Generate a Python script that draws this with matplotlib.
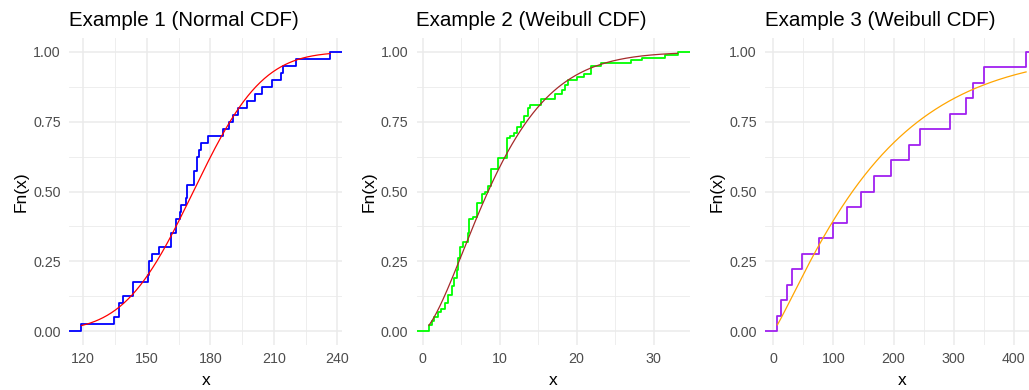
import math
import numpy as np
import matplotlib
matplotlib.use("Agg")
import matplotlib.pyplot as plt

plt.rcParams['font.family'] = ['Liberation Sans', 'DejaVu Sans']

# Example 1: sample (n = 40) and fitted normal
sample1 = [119.2, 134.5, 137.1, 137.1, 138.7, 143.6, 143.6, 150.5, 151.2, 151.2,
           152.3, 155.7, 161.5, 161.5, 163.7, 163.7, 165.5, 166.2, 168.3, 169.0,
           169.0, 172.3, 172.3, 173.9, 173.9, 174.8, 175.5, 178.9, 186.1, 188.8,
           190.9, 193.2, 197.1, 201.1, 204.5, 209.0, 213.2, 214.1, 220.3, 236.5]
norm_mean = 172.0
norm_sd = 25.6

# Example 2: ECDF steps
step2_x = [0.82, 1.2, 1.5, 1.95, 2.4, 2.9, 3.3, 3.77, 4.1, 4.42,
           4.6, 4.85, 5.3, 5.93, 6.06, 6.6, 7.0, 7.1, 7.67, 8.1,
           8.5, 8.84, 9.83, 10.95, 11.4, 11.9, 12.3, 12.8, 13.2, 13.7,
           14.0, 15.4, 17.2, 18.1, 18.5, 18.9, 20.0, 21.0, 21.8, 23.1,
           27.0, 28.5, 31.5, 33.1]
step2_y = [0.02, 0.035, 0.05, 0.07, 0.08, 0.10, 0.13, 0.16, 0.19, 0.22,
           0.26, 0.30, 0.32, 0.35, 0.40, 0.41, 0.43, 0.46, 0.49, 0.50,
           0.52, 0.58, 0.62, 0.69, 0.70, 0.71, 0.73, 0.75, 0.77, 0.80,
           0.81, 0.83, 0.85, 0.865, 0.88, 0.90, 0.91, 0.92, 0.95, 0.96,
           0.97, 0.98, 0.99, 1.0]
weib2_shape = 1.5
weib2_scale = 10.85

# Example 3: sample (n = 18) and fitted Weibull
sample3 = [6.7, 12.2, 22.2, 31.7, 48.3, 76.0, 99.0, 122.0, 146.0, 166.7,
           195.6, 225.0, 244.4, 293.3, 321.0, 331.7, 350.0, 420.6]
weib3_shape = 1.15
weib3_scale = 181.0

titles = ["Example 1 (Normal CDF)", "Example 2 (Weibull CDF)", "Example 3 (Weibull CDF)"]
x_major = [[120, 150, 180, 210, 240], [0, 10, 20, 30], [0, 100, 200, 300, 400]]
x_minor = [[135, 165, 195, 225], [5, 15, 25], [50, 150, 250, 350]]


def normal_cdf(x, mu, sd):
    return np.array([0.5 * (1 + math.erf((v - mu) / (sd * math.sqrt(2)))) for v in x])


def weibull_cdf(x, k, lam):
    x = np.asarray(x)
    return 1 - np.exp(-(x / lam) ** k)


def expand(lo, hi):
    d = (hi - lo) * 0.05
    return lo - d, hi + d


def ecdf_steps(sample):
    s = np.sort(sample)
    xs, ys = [], []
    n = len(s)
    for i, v in enumerate(s):
        if xs and xs[-1] == v:
            ys[-1] = (i + 1) / n
        else:
            xs.append(v)
            ys.append((i + 1) / n)
    return xs, ys


fig = plt.figure(figsize=(10.29, 3.9), dpi=100)
W, H = 1029.0, 390.0
lefts = [69, 416.5, 765]
axes = [fig.add_axes([l / W, (H - 345) / H, 273.5 / W, 307 / H]) for l in lefts]

panels = []
xs1, ys1 = ecdf_steps(sample1)
panels.append((xs1, ys1, '#0000FF', '#FF0000', lambda g: normal_cdf(g, norm_mean, norm_sd)))
panels.append((step2_x, step2_y, '#00FF00', '#A52A2A', lambda g: weibull_cdf(g, weib2_shape, weib2_scale)))
xs3, ys3 = ecdf_steps(sample3)
panels.append((xs3, ys3, '#A020F0', '#FFA500', lambda g: weibull_cdf(g, weib3_shape, weib3_scale)))

for i, ax in enumerate(axes):
    sx, sy, c_step, c_fit, cdf = panels[i]
    lo, hi = expand(min(sx), max(sx))

    px = [lo] + list(sx) + [hi]
    py = [0.0] + list(sy) + [1.0]
    ax.step(px, py, where='post', color=c_step, lw=1.3, zorder=3)

    grid = np.linspace(min(sx), max(sx), 300)
    ax.plot(grid, cdf(grid), color=c_fit, lw=0.9, zorder=4)

    ax.set_xticks(x_major[i])
    ax.set_xticks(x_minor[i], minor=True)
    ax.set_yticks([0, 0.25, 0.5, 0.75, 1.0])
    ax.set_yticks([0.125, 0.375, 0.625, 0.875], minor=True)
    ax.set_yticklabels(["0.00", "0.25", "0.50", "0.75", "1.00"])
    ax.set_xlim(lo, hi)
    ax.set_ylim(-0.05, 1.05)
    ax.grid(which='major', color='#EBEBEB', lw=1.1)
    ax.grid(which='minor', color='#EBEBEB', lw=0.6)
    ax.set_axisbelow(True)
    for sp in ax.spines.values():
        sp.set_visible(False)
    ax.tick_params(which='both', length=0, labelsize=10.3, labelcolor='#4D4D4D')
    ax.tick_params(axis='y', pad=6)
    ax.tick_params(axis='x', pad=5)
    ax.set_xlabel("x", fontsize=12.5, labelpad=5)
    ax.set_ylabel("Fn(x)", fontsize=12.5, labelpad=3)
    ax.set_title(titles[i], loc='left', fontsize=14.8, pad=8.5)

fig.savefig("out.png", dpi=100)
